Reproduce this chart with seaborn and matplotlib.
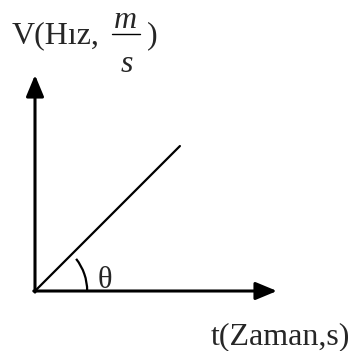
import numpy as np
import pandas as pd
import seaborn as sns
from matplotlib import pyplot as plt
from matplotlib.patches import Arc
from matplotlib.lines import Line2D

# data: V-t graph, straight line through origin
t_values = [0, 10]
v_values = [0, 10]
t_max = 16.7
v_max = 14.9
angle_deg = 38

y_label = "V(Hız,"
unit_num = "m"
unit_den = "s"
x_label = "t(Zaman,s)"
angle_label = "θ"

sns.set_style("white")
plt.rcParams['font.family'] = ['Liberation Serif', 'DejaVu Serif']

W, H = 353, 351
fig = plt.figure(figsize=(W / 100, H / 100), dpi=100)
ax = fig.add_axes([35 / W, 60 / H, 242 / W, 216 / H])

df = pd.DataFrame({"t": t_values, "v": v_values})
sns.lineplot(data=df, x="t", y="v", ax=ax, color="black", lw=1.6)

ax.set_xlim(0, t_max)
ax.set_ylim(0, v_max)
for s in ax.spines.values():
    s.set_visible(False)
ax.set_xticks([])
ax.set_yticks([])
ax.set_xlabel("")
ax.set_ylabel("")
ax.patch.set_alpha(0)

# axes with arrow heads
arrow = dict(arrowstyle="-|>,head_length=0.65,head_width=0.27", color="black",
             lw=2.2, shrinkA=0, shrinkB=0, mutation_scale=20)
ax.annotate("", xy=(1, 0), xytext=(-0.005, 0), xycoords="axes fraction", arrowprops=arrow)
ax.annotate("", xy=(0, 1), xytext=(0, -0.005), xycoords="axes fraction", arrowprops=arrow)

# angle mark
r = 3.6
ax.add_patch(Arc((0, 0), 2 * r, 2 * r, theta1=0, theta2=angle_deg, color="black", lw=1.6))
ax.text(4.8, 0.75, angle_label, fontsize=22, ha="center", va="center")


def fx(px):
    return px / W


def fy(py):
    return 1 - py / H


# y axis label with a stacked m/s fraction
fig.text(fx(12), fy(43), y_label, fontsize=23, ha="left", va="baseline")
fig.text(fx(125), fy(28), unit_num, fontsize=23, style="italic", ha="center", va="baseline")
fig.text(fx(127), fy(72), unit_den, fontsize=23, style="italic", ha="center", va="baseline")
fig.add_artist(Line2D([fx(112), fx(140)], [fy(34), fy(34)], color="black", lw=1.0,
                      transform=fig.transFigure))
fig.text(fx(147), fy(43), ")", fontsize=23, ha="left", va="baseline")

fig.text(fx(211), fy(344), x_label, fontsize=23, ha="left", va="baseline")

fig.savefig("out.png", dpi=100)
